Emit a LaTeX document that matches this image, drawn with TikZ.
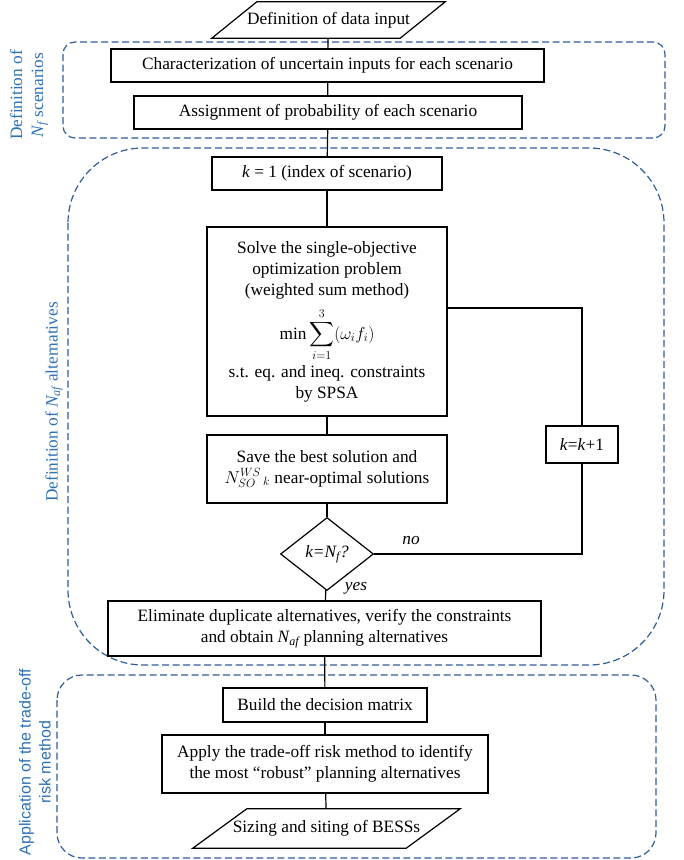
\documentclass[tikz,border=0pt]{standalone}
\usepackage{fontspec}
\setmainfont{Liberation Serif}
\setsansfont{Liberation Sans}
\usepackage{amsmath}
\usepackage{tikz}
\usetikzlibrary{shapes.geometric, positioning}
\definecolor{grpblue}{RGB}{47,94,150}
\definecolor{lblblue}{RGB}{46,112,180}

\begin{document}
\begin{tikzpicture}[x=1pt, y=-1pt,
  font=\fontsize{17.3}{21}\selectfont,
  box/.style={draw, line width=1.2pt, fill=white, align=center, inner sep=0pt},
  io/.style={inner sep=0pt},
  decision/.style={draw, line width=1.2pt, fill=white, shape=diamond, inner sep=0pt},
  group/.style={draw=grpblue, line width=1.2pt, dash pattern=on 7pt off 3.5pt},
  grouplabel/.style={text=lblblue, rotate=90, align=center},
  link/.style={line width=1.2pt}]
\useasboundingbox (0,0) rectangle (684,860);

% dashed groups
\draw[group, rounded corners=12pt] (63,42) rectangle (665,138);
\draw[group, rounded corners=75pt] (68,148) rectangle (664,665);
\draw[group, rounded corners=25pt] (57,675) rectangle (656,858);

\node[grouplabel] (lblScen) at (29,95) {Definition of\\\textit{N\textsubscript{f}} scenarios};
\node[grouplabel] (lblAlt) at (54,402) {Definition of \textit{N\textsubscript{af}} alternatives};
\node[grouplabel, font=\sffamily\fontsize{16}{20}\selectfont] (lblRisk) at (35,762)
  {Application of the trade-off\\risk method};

% steps
\node[io, minimum width=188, minimum height=36] (input) at (328.5,20) {Definition of data input};
\draw[link] ([xshift=-22.5]input.south west) -- ([xshift=-22.5]input.south east)
  -- ([xshift=22.5]input.north east) -- ([xshift=22.5]input.north west) -- cycle;
\node[box, minimum width=433, minimum height=33] (charact) at (327.5,65.5)
  {Characterization of uncertain inputs for each scenario};
\node[box, minimum width=388, minimum height=33] (assign) at (328,112.5)
  {Assignment of probability of each scenario};
\node[box, minimum width=230, minimum height=33] (kinit) at (327,173.5)
  {\textit{k} = 1 (index of scenario)};
\node[box, minimum width=240, minimum height=189] (solve) at (327,321.5)
  {Solve the single-objective\\optimization problem\\(weighted sum method)\\[8pt]
   $\displaystyle\min\sum_{i=1}^{3}(\omega_i f_i)$\\[3pt]
   s.t. eq. and ineq. constraints\\by SPSA};
\node[box, minimum width=240, minimum height=68] (save) at (327,469)
  {Save the best solution and\\$N^{WS}_{SO}{}_{\,k}$ near-optimal solutions};
\node[decision, minimum width=93, minimum height=73] (check) at (327,554)
  {\textit{k=N\textsubscript{f}?}};
\node[box, minimum width=72, minimum height=37] (knext) at (582,444.5)
  {\textit{k}=\textit{k}+1};
\node[box, minimum width=433, minimum height=55] (elim) at (324.5,628.5)
  {Eliminate duplicate alternatives, verify the constraints\\
   and obtain \textit{N\textsubscript{af}} planning alternatives};
\node[box, minimum width=204, minimum height=34] (matrix) at (325,705)
  {Build the decision matrix};
\node[box, minimum width=326, minimum height=58] (apply) at (325,764)
  {Apply the trade-off risk method to identify\\
   the most ``robust'' planning alternatives};
\node[io, minimum width=213, minimum height=39] (output) at (326.5,828.5) {Sizing and siting of BESSs};
\draw[link] ([xshift=-27]output.south west) -- ([xshift=-27]output.south east)
  -- ([xshift=27]output.north east) -- ([xshift=27]output.north west) -- cycle;

\node (no) at (411,541) {\textit{no}};
\node (yes) at (356,588) {\textit{yes}};

% connectors
\coordinate (loop) at (582,308);
\draw[link] (input) -- (charact);
\draw[link] (charact) -- (assign);
\draw[link] (assign) -- (kinit);
\draw[link] (kinit) -- (solve);
\draw[link] (solve) -- (save);
\draw[link] (save) -- (check);
\draw[link] (check) -- (elim);
\draw[link] (elim) -- (matrix);
\draw[link] (matrix) -- (apply);
\draw[link] (apply) -- (output);
\draw[link] (solve.east |- loop) -- (loop) -- (knext.north);
\draw[link] (knext.south) -- (knext.south |- check.east) -- (check.east);
\end{tikzpicture}
\end{document}
